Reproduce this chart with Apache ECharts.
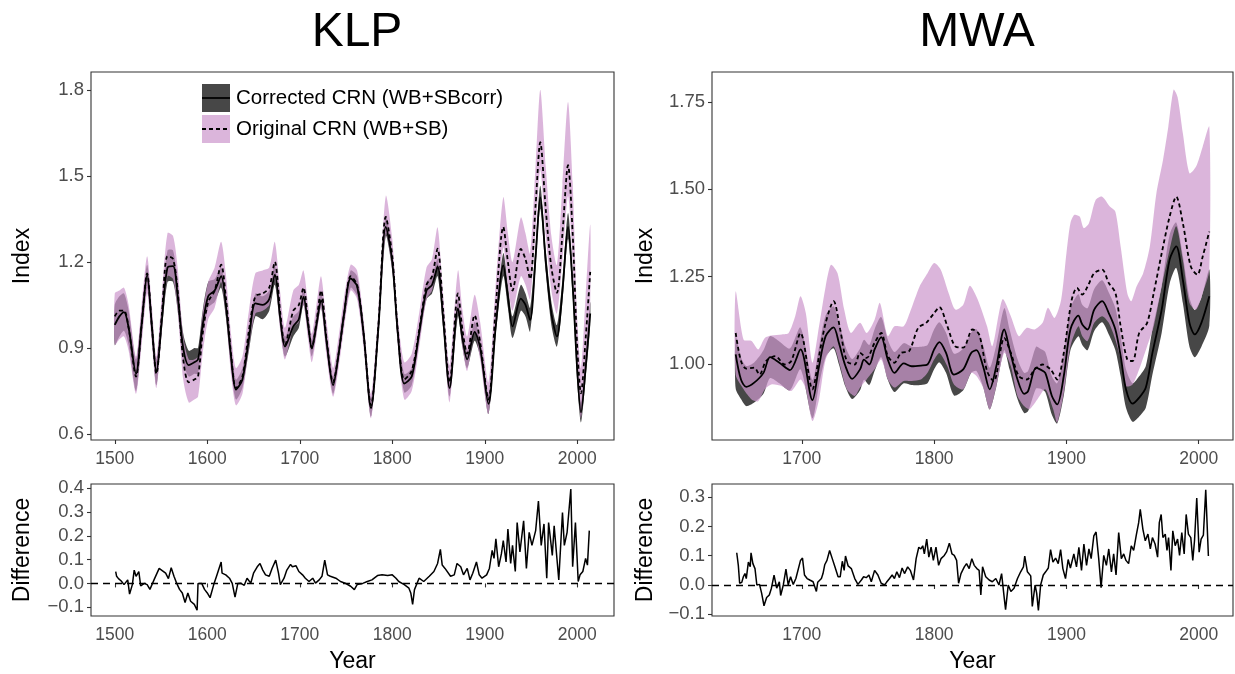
<!DOCTYPE html>
<html>
<head>
<meta charset="utf-8">
<script src="https://cdn.jsdelivr.net/npm/echarts@6/dist/echarts.min.js"></script>
<style>
  html, body { margin: 0; padding: 0; background: #fff; }
  #chart { width: 1235px; height: 674px; }
</style>
</head>
<body>
<div id="chart"></div>
<script>
// ---------------- KLP (index panel) ----------------
const klpYears = [1500,1505,1510,1515,1523,1529,1535,1540,1545,1551,1557,1563,1568,1574,1580,1586,1590,1595,1601,1608,1615,1620,1626,1631,1638,1645,1652,1660,1667,1673,1679,1684,1693,1699,1704,1709,1713,1718,1723,1729,1736,1742,1748,1755,1762,1769,1777,1785,1793,1800,1806,1813,1821,1829,1837,1843,1849,1855,1862,1871,1876,1881,1889,1895,1904,1912,1920,1925,1930,1939,1944,1949,1955,1960,1966,1972,1978,1984,1990,1995,2000,2004,2009,2014];
const klpCorrected = [0.98,1.01,1.025,0.97,0.81,0.98,1.155,0.98,0.815,1.0,1.18,1.185,1.08,0.90,0.84,0.85,0.86,0.98,1.08,1.10,1.15,1.05,0.86,0.755,0.79,0.93,1.055,1.05,1.07,1.155,1.0,0.905,0.975,1.0,1.078,0.98,0.898,0.98,1.067,0.92,0.77,0.88,1.02,1.142,1.115,0.95,0.69,0.97,1.322,1.20,0.95,0.776,0.80,0.95,1.10,1.12,1.183,1.0,0.76,1.038,0.93,0.86,0.956,0.90,0.705,0.98,1.188,1.08,0.975,1.072,1.05,0.997,1.22,1.425,1.20,1.02,0.94,1.10,1.322,1.12,0.82,0.675,0.83,1.02];
const klpOriginal = [1.01,1.03,1.03,0.97,0.80,0.98,1.16,0.98,0.81,1.02,1.22,1.21,1.10,0.86,0.78,0.79,0.80,0.95,1.06,1.10,1.19,1.08,0.87,0.76,0.80,0.96,1.08,1.09,1.11,1.20,1.02,0.91,1.03,1.05,1.11,0.99,0.90,0.99,1.10,0.93,0.78,0.88,1.02,1.15,1.12,0.95,0.70,0.98,1.357,1.22,0.96,0.79,0.82,0.96,1.12,1.15,1.246,1.03,0.78,1.09,0.96,0.88,1.014,0.92,0.72,1.05,1.322,1.20,1.10,1.245,1.21,1.14,1.40,1.617,1.38,1.18,1.092,1.30,1.537,1.30,0.90,0.742,0.93,1.165];
const klpCorrLo = [0.91,0.94,0.96,0.91,0.75,0.93,1.11,0.94,0.77,0.96,1.13,1.13,1.03,0.85,0.80,0.81,0.81,0.93,1.04,1.06,1.11,1.01,0.82,0.72,0.76,0.89,1.01,1.0,1.03,1.12,0.97,0.87,0.94,0.97,1.05,0.95,0.87,0.95,1.04,0.89,0.74,0.85,0.99,1.11,1.08,0.92,0.66,0.94,1.29,1.17,0.92,0.745,0.77,0.92,1.07,1.09,1.15,0.97,0.73,1.01,0.90,0.83,0.925,0.87,0.67,0.95,1.15,1.04,0.935,1.03,1.01,0.957,1.18,1.385,1.16,0.98,0.905,1.06,1.28,1.08,0.78,0.64,0.79,0.98];
const klpCorrHi = [1.05,1.08,1.09,1.03,0.86,1.03,1.19,1.02,0.86,1.05,1.24,1.24,1.13,0.95,0.89,0.90,0.90,1.03,1.13,1.14,1.18,1.09,0.90,0.79,0.83,0.97,1.09,1.08,1.10,1.19,1.03,0.94,1.01,1.03,1.11,1.01,0.93,1.01,1.10,0.95,0.80,0.91,1.05,1.17,1.15,0.98,0.72,1.0,1.36,1.23,0.98,0.81,0.83,0.98,1.13,1.15,1.21,1.03,0.79,1.07,0.96,0.89,0.99,0.93,0.74,1.02,1.23,1.12,1.01,1.12,1.09,1.04,1.26,1.465,1.24,1.06,0.98,1.14,1.37,1.16,0.86,0.71,0.87,1.06];
const klpOrigLo = [0.91,0.93,0.94,0.89,0.74,0.91,1.09,0.92,0.76,0.96,1.15,1.14,1.03,0.79,0.71,0.72,0.73,0.88,1.0,1.04,1.13,1.02,0.80,0.70,0.74,0.90,1.02,1.03,1.05,1.14,0.96,0.86,0.97,0.99,1.05,0.93,0.85,0.94,1.04,0.87,0.73,0.83,0.97,1.10,1.07,0.90,0.655,0.93,1.30,1.17,0.91,0.72,0.75,0.90,1.07,1.10,1.19,0.97,0.71,1.03,0.90,0.82,0.96,0.86,0.67,0.98,1.25,1.12,1.03,1.15,1.12,1.07,1.31,1.52,1.29,1.10,1.02,1.21,1.43,1.20,0.82,0.655,0.84,1.05];
const klpOrigHi = [1.09,1.10,1.11,1.05,0.87,1.05,1.22,1.05,0.87,1.09,1.30,1.29,1.18,0.94,0.86,0.86,0.87,1.02,1.13,1.18,1.27,1.16,0.94,0.83,0.87,1.03,1.16,1.17,1.18,1.27,1.09,0.97,1.10,1.12,1.17,1.05,0.95,1.05,1.15,0.99,0.83,0.94,1.08,1.19,1.17,1.0,0.74,1.03,1.43,1.28,1.01,0.85,0.88,1.02,1.18,1.21,1.32,1.09,0.84,1.17,1.03,0.94,1.085,0.99,0.78,1.13,1.425,1.30,1.20,1.355,1.30,1.23,1.54,1.80,1.53,1.29,1.19,1.47,1.757,1.48,1.0,0.83,1.08,1.33];

// ---------------- KLP (difference panel) ----------------
const klpDiffYears = [1501,1502,1504,1505,1507,1510,1514,1516,1519,1521,1523,1526,1528,1532,1535,1538,1543,1548,1552,1555,1558,1561,1564,1567,1570,1573,1576,1579,1582,1586,1589,1590,1594,1597,1600,1603,1607,1610,1615,1616,1620,1624,1627,1630,1633,1636,1640,1643,1647,1650,1654,1657,1660,1663,1667,1670,1674,1677,1679,1683,1686,1690,1692,1696,1699,1703,1706,1710,1714,1717,1721,1724,1727,1730,1733,1739,1744,1749,1755,1759,1762,1768,1773,1778,1784,1789,1795,1800,1804,1807,1813,1818,1820,1822,1824,1829,1834,1840,1845,1849,1852,1854,1857,1863,1867,1870,1874,1877,1881,1884,1887,1891,1894,1897,1902,1905,1908,1910,1912,1915,1918,1920,1923,1925,1928,1930,1933,1935,1938,1942,1945,1948,1951,1955,1958,1961,1964,1967,1969,1973,1975,1978,1980,1984,1986,1989,1993,1995,1998,2001,2003,2006,2009,2011,2013];
const klpDiffValues = [0.05,0.03,0.02,0.015,0.01,-0.005,0.015,-0.045,-0.005,0.056,0.03,0.05,-0.01,0.0,-0.005,-0.025,0.02,0.063,0.052,0.043,0.02,0.066,0.03,0.0,-0.025,-0.04,-0.08,-0.04,-0.075,-0.088,-0.113,0.0,0.0,-0.025,-0.04,-0.06,-0.005,0.03,0.09,0.043,0.036,0.022,0.0,-0.058,0.0,0.001,-0.008,0.022,0.001,0.043,0.07,0.084,0.056,0.036,0.03,0.063,0.098,0.043,-0.005,0.022,0.056,0.08,0.07,0.074,0.05,0.036,0.022,0.008,0.022,0.001,0.015,0.03,0.098,0.036,0.03,0.022,0.008,0.001,-0.012,-0.026,-0.005,0.0,0.008,0.015,0.033,0.036,0.033,0.036,0.022,0.008,-0.005,-0.02,-0.04,-0.088,-0.026,0.022,0.008,0.03,0.05,0.084,0.143,0.077,0.063,0.03,0.036,0.084,0.07,0.036,0.063,0.015,0.043,0.09,0.036,0.022,0.036,0.063,0.139,0.105,0.187,0.07,0.125,0.18,0.09,0.229,0.084,0.16,0.05,0.256,0.132,0.263,0.063,0.215,0.16,0.222,0.346,0.16,0.25,0.022,0.256,0.118,0.242,0.105,0.015,0.298,0.16,0.215,0.397,0.07,0.256,0.008,0.036,0.05,0.105,0.077,0.222];

// ---------------- MWA (index panel) ----------------
const mwaCorrYears = [1650,1654,1658,1664,1671,1676,1683,1691,1699,1708,1713,1718,1724,1728,1733,1738,1744,1747,1751,1755,1760,1765,1770,1777,1783,1790,1795,1800,1804,1809,1815,1822,1828,1832,1837,1842,1847,1853,1857,1863,1868,1871,1877,1880,1884,1889,1893,1898,1903,1909,1912,1916,1921,1927,1932,1937,1941,1945,1950,1955,1960,1965,1972,1978,1983,1988,1993,1997,2002,2008];
const mwaCorrected = [1.028,0.956,0.935,0.947,0.975,1.02,1.004,0.983,1.042,0.897,0.994,1.08,1.105,1.061,0.994,0.958,0.985,1.013,0.999,1.042,1.077,1.013,0.975,1.002,0.994,0.996,0.999,1.042,1.063,1.032,0.97,0.985,1.032,1.04,0.994,0.928,0.994,1.099,1.042,0.956,0.915,0.923,0.99,0.985,0.975,0.909,0.885,0.966,1.099,1.139,1.113,1.099,1.156,1.18,1.146,1.099,1.023,0.928,0.887,0.904,0.933,1.032,1.156,1.299,1.337,1.241,1.118,1.085,1.118,1.194];
const mwaCorrLo = [0.93,0.90,0.88,0.89,0.915,0.96,0.945,0.925,0.985,0.845,0.94,1.02,1.045,1.0,0.935,0.90,0.925,0.955,0.94,0.98,1.02,0.955,0.92,0.945,0.94,0.94,0.945,0.985,1.005,0.975,0.91,0.925,0.975,0.98,0.935,0.87,0.935,1.04,0.985,0.90,0.86,0.865,0.93,0.93,0.92,0.855,0.83,0.91,1.04,1.08,1.055,1.04,1.095,1.12,1.085,1.04,0.965,0.875,0.835,0.85,0.875,0.97,1.09,1.23,1.275,1.175,1.05,1.02,1.05,1.11];
const mwaCorrHi = [1.08,1.02,0.995,1.005,1.04,1.08,1.065,1.045,1.105,0.955,1.05,1.14,1.165,1.12,1.05,1.015,1.045,1.07,1.055,1.10,1.135,1.07,1.035,1.06,1.05,1.05,1.055,1.10,1.12,1.09,1.03,1.045,1.09,1.10,1.055,0.99,1.055,1.16,1.10,1.015,0.975,0.98,1.05,1.045,1.035,0.965,0.945,1.025,1.16,1.20,1.17,1.16,1.215,1.24,1.205,1.16,1.08,0.985,0.945,0.965,0.995,1.10,1.225,1.37,1.405,1.31,1.19,1.155,1.19,1.27];
const mwaOrigYears = [1650,1654,1658,1664,1668,1673,1680,1687,1692,1699,1708,1713,1718,1724,1729,1734,1740,1744,1749,1755,1760,1765,1770,1775,1781,1788,1794,1800,1804,1810,1816,1822,1829,1834,1840,1845,1853,1858,1864,1870,1876,1882,1888,1893,1898,1904,1908,1912,1916,1921,1927,1932,1937,1941,1946,1950,1955,1961,1966,1972,1978,1983,1988,1994,1999,2003,2008];
const mwaOriginal = [1.089,1.009,0.987,0.99,0.97,1.009,1.023,0.999,1.009,1.089,0.928,1.023,1.118,1.18,1.099,1.009,0.999,1.032,1.018,1.061,1.089,1.023,1.004,1.032,1.037,1.104,1.118,1.146,1.163,1.108,1.051,1.047,1.099,1.085,0.98,0.951,1.075,1.032,0.966,0.956,0.985,0.999,0.985,0.956,1.032,1.184,1.218,1.199,1.222,1.26,1.27,1.232,1.204,1.108,1.013,1.009,1.089,1.118,1.204,1.317,1.422,1.479,1.403,1.279,1.256,1.308,1.379];
const mwaOrigHiYears = [1650,1656,1662,1667,1672,1677,1685,1690,1695,1699,1703,1708,1713,1718,1722,1727,1732,1737,1744,1749,1755,1759,1765,1770,1777,1782,1789,1795,1800,1805,1811,1816,1822,1827,1833,1840,1844,1849,1852,1858,1864,1870,1876,1882,1886,1891,1896,1900,1903,1906,1910,1913,1917,1922,1927,1933,1937,1941,1946,1949,1953,1958,1963,1968,1973,1977,1981,1984,1988,1993,1998,2003,2008];
const mwaOrigHi = [1.208,1.07,1.066,1.042,1.075,1.082,1.085,1.089,1.137,1.194,1.146,1.004,1.108,1.222,1.284,1.26,1.156,1.089,1.118,1.089,1.127,1.175,1.08,1.108,1.108,1.151,1.222,1.26,1.289,1.27,1.203,1.156,1.17,1.224,1.184,1.108,1.051,1.146,1.186,1.137,1.08,1.104,1.099,1.118,1.161,1.132,1.184,1.317,1.403,1.427,1.422,1.389,1.403,1.469,1.479,1.45,1.436,1.336,1.203,1.18,1.222,1.26,1.336,1.489,1.584,1.679,1.785,1.764,1.66,1.546,1.565,1.622,1.679];
const mwaOrigLoYears = [1650,1656,1662,1667,1672,1677,1685,1692,1699,1703,1708,1713,1718,1724,1729,1734,1740,1744,1749,1755,1760,1765,1770,1777,1783,1790,1795,1800,1804,1810,1815,1822,1828,1832,1837,1842,1847,1853,1858,1863,1868,1872,1878,1884,1890,1893,1898,1903,1909,1912,1916,1921,1927,1932,1937,1941,1945,1950,1955,1961,1966,1972,1978,1983,1988,1993,1998,2003,2008];
const mwaOrigLo = [0.97,0.928,0.899,0.894,0.928,0.942,0.937,0.923,0.956,0.928,0.837,0.899,1.013,1.051,0.994,0.928,0.909,0.933,0.956,0.985,1.013,0.956,0.933,0.952,0.952,0.956,0.975,1.013,1.032,0.994,0.942,0.928,0.975,0.966,0.933,0.871,0.937,1.032,0.994,0.909,0.88,0.871,0.899,0.928,0.871,0.833,0.918,1.051,1.108,1.08,1.066,1.118,1.137,1.118,1.07,1.013,0.937,0.942,0.985,1.051,1.108,1.222,1.327,1.394,1.298,1.175,1.156,1.203,1.27];

// ---------------- MWA (difference panel) ----------------
const mwaDiffYears = [1650.8,1652,1653,1654.6,1655.8,1657,1658,1659.6,1661,1661.6,1663,1664.6,1666,1668,1669.6,1671.4,1673.4,1675.4,1677,1679,1681,1683,1684,1686,1688,1689.7,1691.5,1693.5,1695.5,1697,1699,1700.5,1702,1704,1706,1708.5,1711,1712,1714.8,1716,1717.3,1719,1721,1723,1725,1727.4,1729,1730.6,1732,1733,1735,1737.4,1740,1742.4,1745,1746.7,1748.7,1750.7,1752.5,1755,1757.5,1760,1762.5,1764,1766.3,1768.3,1770,1771.8,1773.8,1775.8,1777.6,1780,1782,1784.4,1786.4,1788.4,1790,1791.4,1792.6,1794.4,1796,1797.7,1799.4,1801.4,1803.4,1805.2,1807.7,1809.5,1811.5,1813.5,1815.2,1817,1818.5,1820.3,1822.8,1824.5,1826.5,1828.5,1830.3,1832.3,1834,1835.3,1836.6,1839,1841.6,1844,1846.6,1849,1851,1853,1854,1856,1858,1860.4,1863,1865.4,1867.5,1868.5,1870.5,1873,1874.2,1876.3,1877.5,1878.8,1880.5,1882.5,1884.3,1886.3,1888,1889.8,1891.8,1893.8,1895.6,1897.3,1899.3,1901.3,1903,1905.6,1907.6,1909.4,1911.4,1913.2,1915.2,1917,1918.7,1920.7,1922.4,1924.4,1926.2,1928.2,1930.2,1932,1934,1935.7,1937.5,1939.5,1941.5,1943.3,1945,1947,1949,1950.8,1952.8,1954.6,1955.8,1957.8,1959.6,1961.6,1963.4,1965,1967,1968.9,1970.2,1971.6,1972.9,1974.7,1976,1977.2,1979,1980.4,1982.2,1984,1985.5,1987.2,1989,1990.5,1992.2,1994,1995.5,1996.8,1998.5,2000.3,2001.8,2003.5,2005.3,2007.3];
const mwaDiffValues = [0.11,0.067,0.006,0.009,0.028,0.039,0.022,0.078,0.062,0.11,0.073,0.056,0.0,0.002,-0.028,-0.071,-0.043,-0.034,-0.011,0.034,-0.011,0.011,-0.036,0.0,0.054,0.0,0.028,0.002,0.022,0.017,0.084,0.092,0.034,0.022,0.017,0.011,-0.022,0.009,0.022,0.039,0.069,0.084,0.118,0.09,0.062,0.028,0.028,0.081,0.05,0.099,0.065,0.056,0.022,0.002,0.017,0.028,0.025,0.034,0.011,0.05,0.034,0.006,0.0,0.009,0.022,0.034,0.022,0.045,0.025,0.058,0.039,0.062,0.05,0.017,0.09,0.129,0.123,0.134,0.106,0.157,0.095,0.129,0.084,0.129,0.067,0.09,0.101,0.114,0.143,0.106,0.101,0.084,0.006,0.039,0.062,0.073,0.056,0.09,0.067,0.056,0.05,-0.034,0.062,0.028,0.017,0.011,0.022,0.0,0.039,-0.045,-0.084,0.0,-0.022,-0.011,0.022,0.045,0.062,0.099,0.045,0.031,-0.073,0.0,-0.028,-0.087,0.0,0.034,0.045,0.058,0.121,0.078,0.092,0.073,0.121,0.056,0.022,0.087,0.058,0.106,0.062,0.129,0.05,0.14,0.067,0.123,0.09,0.168,0.181,0.09,-0.009,0.101,0.067,0.123,0.045,0.106,0.034,0.179,0.09,0.106,0.084,0.073,0.134,0.118,0.17,0.213,0.258,0.19,0.151,0.174,0.123,0.162,0.14,0.095,0.213,0.241,0.162,0.174,0.118,0.162,0.05,0.185,0.134,0.157,0.101,0.179,0.106,0.241,0.174,0.162,0.084,0.151,0.297,0.112,0.157,0.17,0.325,0.099];

// ---------------- tick labels ----------------
const klpIndexTicks = [0.6, 0.9, 1.2, 1.5, 1.8];
const klpDiffTicks = [-0.1, 0.0, 0.1, 0.2, 0.3, 0.4];
const klpYearTicks = [1500, 1600, 1700, 1800, 1900, 2000];
const mwaIndexTicks = [1.0, 1.25, 1.5, 1.75];
const mwaDiffTicks = [-0.1, 0.0, 0.1, 0.2, 0.3];
const mwaYearTicks = [1700, 1800, 1900, 2000];

// ---------------- build chart ----------------
const FONT = "'Liberation Sans', Arial, Helvetica, sans-serif";
const DARK = '#474747';
const PURPLE = 'rgba(205,153,205,0.72)';
const zip = (xs, ys) => xs.map((x, i) => [x, ys[i]]);
const fmtMinus = (d) => (v) => { const s = Math.abs(v).toFixed(d); return (v < -1e-9 ? '\u2212' : '') + s; };

const grids = [
  { left: 91, top: 72, width: 523, height: 368 },
  { left: 91, top: 484, width: 523, height: 134 },
  { left: 712, top: 72, width: 521, height: 368 },
  { left: 712, top: 484, width: 521, height: 134 }
].map(g => Object.assign({ show: true, borderColor: '#333', borderWidth: 1.1, backgroundColor: 'transparent', containLabel: false }, g));

function xAx(gi, min, max, ticks, name) {
  return {
    type: 'value', gridIndex: gi, min, max,
    axisLine: { show: false },
    axisTick: { show: true, length: 4, lineStyle: { color: '#333', width: 1.1 }, customValues: ticks },
    axisLabel: { customValues: ticks, color: '#4d4d4d', fontSize: 17.5, fontFamily: FONT, margin: 10, formatter: (v) => String(v) },
    splitLine: { show: false },
    name: name || '', nameLocation: 'middle', nameGap: 34,
    nameTextStyle: { fontSize: 23, color: '#000', fontFamily: FONT }
  };
}
function yAx(gi, min, max, ticks, name, dec, gap) {
  return {
    type: 'value', gridIndex: gi, min, max,
    axisLine: { show: false },
    axisTick: { show: true, length: 4, lineStyle: { color: '#333', width: 1.1 }, customValues: ticks },
    axisLabel: { customValues: ticks, color: '#4d4d4d', fontSize: 18.5, fontFamily: FONT, margin: 7, formatter: fmtMinus(dec) },
    splitLine: { show: false },
    name, nameLocation: 'middle', nameGap: gap, nameRotate: 90,
    nameTextStyle: { fontSize: 23, color: '#000', fontFamily: FONT }
  };
}

function band(ai, upper, lower, color, z) {
  return {
    type: 'custom', coordinateSystem: 'cartesian2d', xAxisIndex: ai, yAxisIndex: ai, z, silent: true,
    data: [upper[0]], encode: { x: 0, y: 1 },
    renderItem: (params, api) => {
      const pts = upper.map(p => api.coord(p)).concat(lower.slice().reverse().map(p => api.coord(p)));
      return { type: 'polygon', shape: { points: pts, smooth: 0.25 }, style: { fill: color } };
    }
  };
}
function line(ai, data, dashed, z, width) {
  return {
    type: 'line', xAxisIndex: ai, yAxisIndex: ai, z, data, smooth: dashed === 'raw' ? false : 0.3,
    showSymbol: false, symbol: 'none', silent: true,
    lineStyle: { color: '#000', width: width || 1.8, type: dashed === true ? [4, 3] : 'solid' }
  };
}
function diffLine(ai, data) {
  const s = line(ai, data, 'raw', 5, 1.5);
  s.markLine = {
    silent: true, symbol: 'none', label: { show: false },
    lineStyle: { color: '#000', type: [7, 5], width: 1.4 },
    data: [{ yAxis: 0 }]
  };
  return s;
}

const option = {
  animation: false,
  backgroundColor: '#fff',
  title: [
    { text: 'KLP', left: 352, top: 4, textAlign: 'center', textStyle: { fontSize: 48, fontWeight: 'normal', color: '#000', fontFamily: FONT } },
    { text: 'MWA', left: 972, top: 4, textAlign: 'center', textStyle: { fontSize: 48, fontWeight: 'normal', color: '#000', fontFamily: FONT } }
  ],
  grid: grids,
  xAxis: [
    xAx(0, 1474.3, 2039.7, klpYearTicks),
    xAx(1, 1474.3, 2039.7, klpYearTicks, 'Year'),
    xAx(2, 1632.1, 2025.9, mwaYearTicks),
    xAx(3, 1632.1, 2025.9, mwaYearTicks, 'Year')
  ],
  yAxis: [
    yAx(0, 0.579, 1.862, klpIndexTicks, 'Index', 1, 57),
    yAx(1, -0.137, 0.418, klpDiffTicks, 'Difference', 1, 57),
    yAx(2, 0.783, 1.8355, mwaIndexTicks, 'Index', 2, 55),
    yAx(3, -0.106, 0.345, mwaDiffTicks, 'Difference', 1, 55)
  ],
  series: [
    band(0, zip(klpYears, klpCorrHi), zip(klpYears, klpCorrLo), DARK, 1),
    band(0, zip(klpYears, klpOrigHi), zip(klpYears, klpOrigLo), PURPLE, 2),
    line(0, zip(klpYears, klpCorrected), false, 4),
    line(0, zip(klpYears, klpOriginal), true, 4),
    diffLine(1, zip(klpDiffYears, klpDiffValues)),
    band(2, zip(mwaCorrYears, mwaCorrHi), zip(mwaCorrYears, mwaCorrLo), DARK, 1),
    band(2, zip(mwaOrigHiYears, mwaOrigHi), zip(mwaOrigLoYears, mwaOrigLo), PURPLE, 2),
    line(2, zip(mwaCorrYears, mwaCorrected), false, 4),
    line(2, zip(mwaOrigYears, mwaOriginal), true, 4),
    diffLine(3, zip(mwaDiffYears, mwaDiffValues))
  ],
  graphic: [
    { type: 'rect', left: 202, top: 84, shape: { width: 28, height: 28 }, style: { fill: DARK }, z: 10 },
    { type: 'line', shape: { x1: 202, y1: 98, x2: 230, y2: 98 }, style: { stroke: '#000', lineWidth: 1.8 }, z: 11 },
    { type: 'rect', left: 202, top: 115, shape: { width: 28, height: 28 }, style: { fill: PURPLE }, z: 10 },
    { type: 'line', shape: { x1: 202, y1: 129, x2: 230, y2: 129 }, style: { stroke: '#000', lineWidth: 1.8, lineDash: [4, 3] }, z: 11 },
    { type: 'text', x: 236, y: 98, style: { text: 'Corrected CRN (WB+SBcorr)', fill: '#000', font: '20.5px ' + FONT, textVerticalAlign: 'middle' }, z: 11 },
    { type: 'text', x: 236, y: 129, style: { text: 'Original CRN (WB+SB)', fill: '#000', font: '20.5px ' + FONT, textVerticalAlign: 'middle' }, z: 11 }
  ]
};

const chart = echarts.init(document.getElementById('chart'), null, { renderer: 'canvas' });
chart.setOption(option);
</script>
</body>
</html>
